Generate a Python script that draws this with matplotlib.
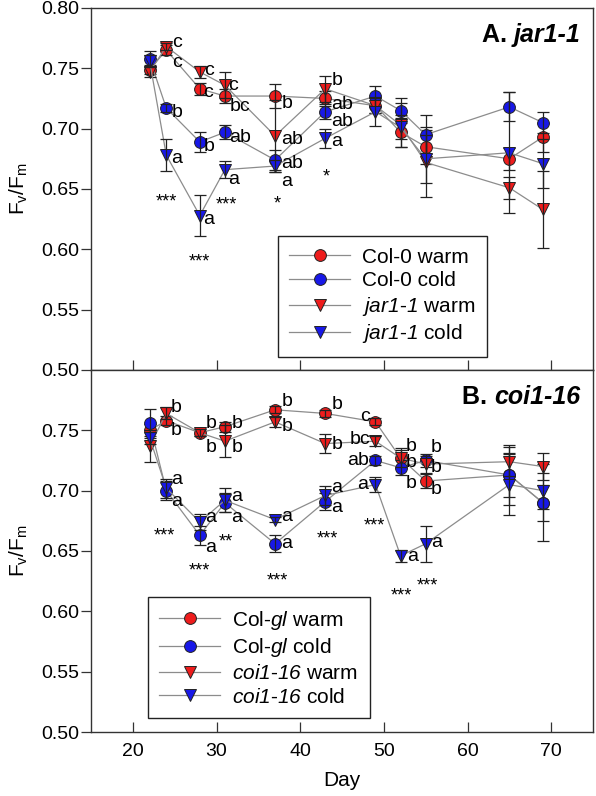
import matplotlib
matplotlib.use("Agg")
import matplotlib.pyplot as plt
import numpy as np

plt.rcParams['font.family'] = ['Liberation Sans', 'DejaVu Sans']
plt.rcParams['mathtext.fontset'] = 'custom'
# math "rm" is used only for the italic gene names in the legends
plt.rcParams['mathtext.rm'] = 'Liberation Sans:italic'
plt.rcParams['mathtext.it'] = 'Liberation Sans:italic'
plt.rcParams['mathtext.bf'] = 'Liberation Sans:bold'

days = [22, 24, 28, 31, 37, 43, 49, 52, 55, 65, 69]

# panel A: jar1-1
col0_warm = [0.749, 0.765, 0.733, 0.727, 0.727, 0.725, 0.719, 0.697, 0.685, 0.675, 0.693]
col0_warm_err = [0.004, 0.004, 0.005, 0.006, 0.010, 0.006, 0.006, 0.012, 0.014, 0.009, 0.012]
col0_cold = [0.758, 0.717, 0.689, 0.697, 0.674, 0.714, 0.727, 0.715, 0.695, 0.718, 0.705]
col0_cold_err = [0.006, 0.003, 0.008, 0.006, 0.008, 0.006, 0.008, 0.010, 0.016, 0.012, 0.009]
jar_warm = [0.747, 0.768, 0.747, 0.736, 0.694, 0.733, 0.719, 0.703, 0.672, 0.651, 0.633]
jar_warm_err = [0.004, 0.003, 0.005, 0.011, 0.030, 0.011, 0.006, 0.018, 0.029, 0.009, 0.032]
jar_cold = [0.756, 0.678, 0.628, 0.666, 0.669, 0.692, 0.714, 0.701, 0.675, 0.680, 0.671]
jar_cold_err = [0.005, 0.013, 0.017, 0.007, 0.005, 0.008, 0.012, 0.010, 0.020, 0.050, 0.020]

# panel B: coi1-16
colgl_warm = [0.750, 0.758, 0.748, 0.753, 0.767, 0.764, 0.757, 0.727, 0.708, 0.713, 0.690]
colgl_warm_err = [0.005, 0.004, 0.003, 0.004, 0.003, 0.003, 0.003, 0.008, 0.006, 0.018, 0.015]
colgl_cold = [0.756, 0.700, 0.663, 0.690, 0.656, 0.691, 0.725, 0.719, 0.725, 0.713, 0.690]
colgl_cold_err = [0.012, 0.008, 0.008, 0.008, 0.007, 0.007, 0.004, 0.006, 0.005, 0.025, 0.032]
coi_warm = [0.737, 0.764, 0.748, 0.741, 0.757, 0.739, 0.741, 0.727, 0.722, 0.724, 0.720]
coi_warm_err = [0.013, 0.005, 0.003, 0.013, 0.004, 0.008, 0.004, 0.007, 0.007, 0.012, 0.011]
coi_cold = [0.744, 0.702, 0.674, 0.692, 0.676, 0.696, 0.705, 0.646, 0.656, 0.705, 0.700]
coi_cold_err = [0.005, 0.008, 0.007, 0.010, 0.002, 0.008, 0.006, 0.005, 0.015, 0.025, 0.015]

labels_a = ['Col-0 warm', 'Col-0 cold',
            r'$\mathrm{jar1}$-$\mathrm{1}$ warm', r'$\mathrm{jar1}$-$\mathrm{1}$ cold']
labels_b = [r'Col-$\mathrm{gl}$ warm', r'Col-$\mathrm{gl}$ cold',
            r'$\mathrm{coi1}$-$\mathrm{16}$ warm', r'$\mathrm{coi1}$-$\mathrm{16}$ cold']

# significance letters (x, y, text)
letters_a = [(25.26, 0.771, 'c'), (25.26, 0.755, 'c'), (25.26, 0.713, 'b'), (25.26, 0.675, 'a'),
             (29.08, 0.748, 'c'), (28.96, 0.730, 'c'), (29.08, 0.685, 'b'), (29.08, 0.625, 'a'),
             (31.95, 0.736, 'c'), (32.78, 0.718, 'bc'), (32.78, 0.693, 'ab'), (32.06, 0.658, 'a'),
             (38.39, 0.721, 'b'), (38.99, 0.691, 'ab'), (38.99, 0.671, 'ab'), (38.39, 0.656, 'a'),
             (44.36, 0.740, 'b'), (44.95, 0.720, 'ab'), (44.95, 0.706, 'ab'), (44.36, 0.689, 'a')]
stars_a = [(23.95, 0.6425, '***'), (27.9, 0.593, '***'), (31.23, 0.640, '***'),
           (37.2, 0.641, '*'), (43.16, 0.663, '*')]

letters_b = [(25.14, 0.7685, 'b'), (25.14, 0.7495, 'b'), (25.26, 0.709, 'a'), (25.26, 0.691, 'a'),
             (29.32, 0.756, 'b'), (29.32, 0.7354, 'b'), (29.32, 0.6775, 'a'), (29.32, 0.6526, 'a'),
             (32.42, 0.756, 'b'), (32.42, 0.7354, 'b'), (32.42, 0.6948, 'a'), (32.42, 0.6775, 'a'),
             (38.39, 0.7735, 'b'), (38.39, 0.7528, 'b'), (38.39, 0.6783, 'a'), (38.39, 0.656, 'a'),
             (44.36, 0.771, 'b'), (44.36, 0.7379, 'b'), (44.36, 0.7023, 'a'), (44.36, 0.6857, 'a'),
             (47.70, 0.7611, 'c'), (47.10, 0.742, 'bc'), (46.86, 0.7247, 'ab'), (47.46, 0.7048, 'a'),
             (53.31, 0.737, 'b'), (53.31, 0.723, 'b'), (53.31, 0.7056, 'b'), (53.42, 0.6452, 'a'),
             (56.29, 0.7354, 'b'), (56.29, 0.7189, 'b'), (56.29, 0.7006, 'b'), (56.29, 0.6568, 'a')]
stars_b = [(23.71, 0.6661, '***'), (28.01, 0.6371, '***'), (31.11, 0.6606, '**'),
           (37.32, 0.6289, '***'), (43.28, 0.6634, '***'), (48.89, 0.6744, '***'),
           (52.11, 0.6164, '***'), (55.21, 0.6247, '***')]

RED = '#ee1c1c'
BLUE = '#1818e8'
styles = [('o', RED, 8.5), ('o', BLUE, 8.5), ('v', RED, 9), ('v', BLUE, 9)]


def draw_panel(ax, series, errs, labels, letters, stars, legend_anchor):
    for (marker, color, ms), y, e, lab in zip(styles, series, errs, labels):
        ax.plot(days, y, color='#8c8c8c', lw=0.9, marker=marker, ms=ms,
                mfc=color, mec='#222222', mew=0.7, label=lab, zorder=3)
        ax.errorbar(days, y, yerr=e, fmt='none', ecolor='#222222', elinewidth=0.9,
                    capsize=4, capthick=0.9, zorder=3)
    for x, y, s in letters:
        ax.text(x, y, s, fontsize=14, ha='center', va='center', zorder=5)
    for x, y, s in stars:
        ax.annotate(s, (x, y), xytext=(0, -3), textcoords='offset points',
                    fontsize=13, ha='center', va='center', zorder=5)
    ax.set_xlim(15, 75)
    ax.set_ylim(0.50, 0.80)
    ax.set_xticks([20, 30, 40, 50, 60, 70])
    ax.set_yticks(np.arange(0.50, 0.801, 0.05))
    ax.tick_params(axis='x', direction='in', length=7, width=0.9, labelsize=14,
                   color='#333333', pad=8)
    ax.tick_params(axis='y', direction='out', length=7, width=0.9, labelsize=14,
                   color='#333333', pad=1.5)
    for sp in ax.spines.values():
        sp.set_color('#333333')
        sp.set_linewidth(1.0)
    ax.set_ylabel(r'F$_\mathregular{v}$/F$_\mathregular{m}$', fontsize=15, labelpad=8)
    leg = ax.legend(loc='lower left', bbox_to_anchor=legend_anchor, fontsize=15,
                    numpoints=1, handlelength=2.9, handletextpad=0.6,
                    labelspacing=0.22, borderpad=0.55, fancybox=False,
                    framealpha=1, edgecolor='#222222', borderaxespad=0)
    leg.get_frame().set_linewidth(1.0)


def panel_title(ax, prefix, name):
    t = ax.text(0.975, 0.893, name, transform=ax.transAxes, fontsize=18,
                fontweight='bold', style='italic', ha='right', va='bottom')
    ax.annotate(prefix, xy=(0, 0), xycoords=t, fontsize=18, fontweight='bold',
                ha='right', va='bottom')


fig = plt.figure(figsize=(5.96, 7.96), dpi=100)
ax1 = fig.add_axes([0.1527, 0.5352, 0.8423, 0.4548])
ax2 = fig.add_axes([0.1527, 0.0804, 0.8423, 0.4548])

draw_panel(ax1, [col0_warm, col0_cold, jar_warm, jar_cold],
           [col0_warm_err, col0_cold_err, jar_warm_err, jar_cold_err],
           labels_a, letters_a, stars_a, (0.3725, 0.036))
draw_panel(ax2, [colgl_warm, colgl_cold, coi_warm, coi_cold],
           [colgl_warm_err, colgl_cold_err, coi_warm_err, coi_cold_err],
           labels_b, letters_b, stars_b, (0.1135, 0.0387))

ax1.tick_params(axis='x', labelbottom=False)
ax2.set_yticks(np.arange(0.50, 0.751, 0.05))
ax2.set_xlabel('Day', fontsize=15, labelpad=8)

panel_title(ax1, 'A. ', 'jar1-1')
panel_title(ax2, 'B. ', 'coi1-16')

fig.savefig('out.png', dpi=100, facecolor='white')
